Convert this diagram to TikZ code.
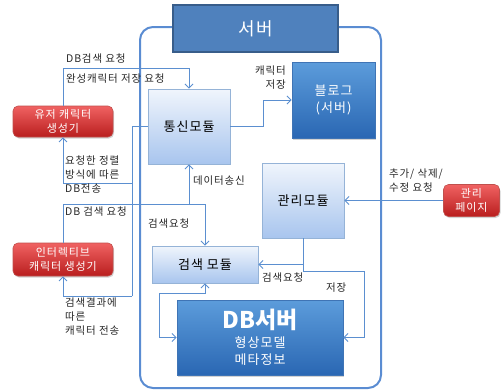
\documentclass[tikz,border=0pt]{standalone}
\usepackage{fontspec}
\setmainfont{Noto Sans CJK KR}[LetterSpace=8]
\usetikzlibrary{arrows.meta,shadows,calc}
\definecolor{conncol}{HTML}{5B8FD0}
\definecolor{contcol}{HTML}{5A8CD2}
\definecolor{titlefill}{HTML}{4F81BD}
\definecolor{titledraw}{HTML}{385D8A}
\definecolor{lighttop}{HTML}{F0F5FC}
\definecolor{lightbot}{HTML}{A8C5EE}
\definecolor{lightdraw}{HTML}{95B3D7}
\definecolor{darktop}{HTML}{5C9CDB}
\definecolor{darkbot}{HTML}{2A67B3}
\definecolor{darkdraw}{HTML}{3F74B5}
\definecolor{redtop}{HTML}{F06262}
\definecolor{redbot}{HTML}{B91E1E}
\definecolor{reddraw}{HTML}{C0504D}
\definecolor{labcol}{HTML}{262626}
\tikzset{
  lbl/.style={font=\fontsize{10.5}{13.8}\selectfont, text=labcol, inner sep=0pt, align=left},
  conn/.style={draw=conncol, line width=0.9pt},
  arr/.style={-{Straight Barb[length=4pt,width=8pt]}},
  barr/.style={{Straight Barb[length=4pt,width=8pt]}-{Straight Barb[length=4pt,width=8pt]}},
  lightbox/.style={draw=lightdraw, line width=0.9pt, top color=lighttop, bottom color=lightbot, text=black, font=\fontsize{13}{16}\selectfont, inner sep=0pt, align=center},
  darkbox/.style={draw=darkdraw, line width=0.9pt, top color=darktop, bottom color=darkbot, text=white, inner sep=0pt, align=center, drop shadow={shadow xshift=1pt, shadow yshift=-1.5pt, opacity=0.35}},
  redbox/.style={draw=reddraw, line width=0.6pt, rounded corners=5pt, top color=redtop, bottom color=redbot, text=white, inner sep=0pt, align=center, font=\fontsize{11}{14}\selectfont, drop shadow={shadow xshift=1pt, shadow yshift=-1.5pt, opacity=0.35}},
}
\begin{document}
\begin{tikzpicture}[x=1pt,y=-1pt]
\useasboundingbox (0,0) rectangle (502,391);
% container
\node[draw=contcol, line width=2pt, rounded corners=13pt, minimum width=241pt, minimum height=361pt, inner sep=0pt] (cont) at (260.5,207.5) {};
% title
\node[draw=titledraw, line width=1.8pt, fill=titlefill, text=white, minimum width=165pt, minimum height=47pt, inner sep=0pt, font=\fontsize{18}{20}\selectfont] (title) at (255.5,28.5) {서버};
% modules
\node[lightbox, minimum width=82pt, minimum height=75pt] (tong) at (189,126.5) {통신모듈};
\node[darkbox, minimum width=83pt, minimum height=76pt, font=\fontsize{13}{17}\selectfont] (blog) at (333.5,100) {블로그\\(서버)};
\node[lightbox, minimum width=82pt, minimum height=75pt] (gwanri) at (303,200.5) {관리모듈};
\node[lightbox, minimum width=106pt, minimum height=37pt] (search) at (205,264.5) {검색 모듈};
\node[darkbox, minimum width=166pt, minimum height=75pt, font=\fontsize{13}{17.5}\selectfont] (db) at (260,337.5) {{\fontsize{23}{26}\selectfont\addfontfeature{LetterSpace=0}\bfseries DB서버}\\[1pt]형상모델\\메타정보};
% red boxes
\node[redbox, minimum width=100pt, minimum height=31pt] (user) at (63,121.5) {유저 캐릭터\\생성기};
\node[redbox, minimum width=100pt, minimum height=33pt] (inter) at (63,259.5) {인터렉티브\\캐릭터 생성기};
\node[redbox, minimum width=56pt, minimum height=32pt] (admin) at (471.5,200.5) {관리\\페이지};
% junction coordinates
\coordinate (j1) at (132,183);
\coordinate (j2) at (132,296);
\coordinate (s1) at (205,204);
\coordinate (s2) at (189,204);
\coordinate (g1) at (303,264.5);
% connectors
\draw[conn,arr] (user.north) |- ([yshift=20pt]tong.north) -- (tong.north);
\draw[conn] (tong.west) -| (j2);
\draw[conn,arr] (j1) -| (user.south);
\draw[conn,arr] (j2) -| (inter.south);
\draw[conn,arr] (tong.east) -- ++(33,0) |- (blog.west);
\draw[conn,arr] (inter.north) |- (s1) -- (search.north);
\draw[conn,arr] (s2) -- (tong.south);
\draw[conn,barr] (search.south) -- ++(0,10) -- ++(-46,0) |- (db.west);
\draw[conn,arr] (gwanri.south) -- ++(0,33) -| ($(db.east)+(21,0)$) -- (db.east);
\draw[conn,arr] (g1) -- (search.east);
\draw[conn,arr] (admin.west) -- (gwanri.east);
% labels
\node[lbl, anchor=west] (l1) at (66,59) {DB검색 요청};
\node[lbl, anchor=west] (l2) at (66,79) {완성캐릭터 저장 요청};
\node[lbl, anchor=north west] (l3) at (65,156) {요청한 정렬\\방식에 따른\\DB전송};
\node[lbl, anchor=north east, align=right] (l4) at (286,66) {캐릭터\\저장};
\node[lbl, anchor=west] (l5) at (193,181) {데이터송신};
\node[lbl, anchor=west] (l6) at (65,212) {DB 검색 요청};
\node[lbl, anchor=west] (l7) at (148,224) {검색요청};
\node[lbl, anchor=north west] (l8) at (65,298) {검색결과에\\따른\\캐릭터 전송};
\node[lbl, anchor=west] (l9) at (262,278) {검색요청};
\node[lbl, anchor=west] (l10) at (326,288) {저장};
\node[lbl, anchor=north west] (l11) at (389,169) {추가/ 삭제/\\수정 요청};
\end{tikzpicture}
\end{document}
